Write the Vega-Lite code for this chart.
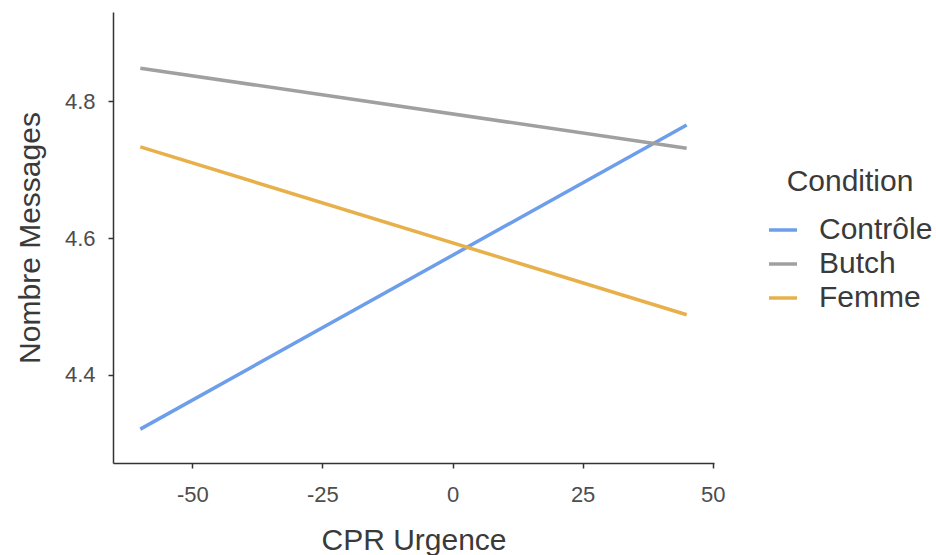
{
  "$schema": "https://vega.github.io/schema/vega-lite/v6.json",
  "width": 601,
  "height": 451,
  "autosize": "none",
  "padding": {"left": 113, "top": 12, "right": 222, "bottom": 92},
  "background": "white",
  "config": {"view": {"stroke": null}, "font": "Liberation Sans"},
  "data": {
    "values": [
      {"CPR": -60, "Messages": 4.321, "Condition": "Contrôle"},
      {"CPR": 45, "Messages": 4.765, "Condition": "Contrôle"},
      {"CPR": -60, "Messages": 4.848, "Condition": "Butch"},
      {"CPR": 45, "Messages": 4.731, "Condition": "Butch"},
      {"CPR": -60, "Messages": 4.733, "Condition": "Femme"},
      {"CPR": 45, "Messages": 4.488, "Condition": "Femme"}
    ]
  },
  "mark": {"type": "line", "strokeWidth": 3.5},
  "encoding": {
    "x": {
      "field": "CPR",
      "type": "quantitative",
      "scale": {"domain": [-65.25, 50.25], "nice": false, "zero": false},
      "axis": {
        "title": "CPR Urgence",
        "values": [-50, -25, 0, 25, 50],
        "labelExpr": "replace(datum.label, '−', '-')",
        "grid": false,
        "domainColor": "#333333",
        "domainWidth": 1.5,
        "tickColor": "#333333",
        "tickWidth": 1.5,
        "tickSize": 5,
        "labelFontSize": 22,
        "labelColor": "#4d4d4d",
        "labelPadding": 16,
        "titleFontSize": 30,
        "titleFontWeight": "normal",
        "titleColor": "#3a3a3a",
        "titlePadding": 20
      }
    },
    "y": {
      "field": "Messages",
      "type": "quantitative",
      "scale": {"domain": [4.2715, 4.93], "nice": false, "zero": false},
      "axis": {
        "title": "Nombre Messages",
        "values": [4.4, 4.6, 4.8],
        "format": ".1f",
        "grid": false,
        "domainColor": "#333333",
        "domainWidth": 1.5,
        "tickColor": "#333333",
        "tickWidth": 1.5,
        "tickSize": 5,
        "labelFontSize": 22,
        "labelColor": "#4d4d4d",
        "labelPadding": 13,
        "titleFontSize": 30,
        "titleFontWeight": "normal",
        "titleColor": "#3a3a3a",
        "titlePadding": 19
      }
    },
    "color": {
      "field": "Condition",
      "type": "nominal",
      "sort": ["Contrôle", "Butch", "Femme"],
      "scale": {
        "domain": ["Contrôle", "Butch", "Femme"],
        "range": ["#6D9EEB", "#A0A0A0", "#E8B04A"]
      },
      "legend": {
        "orient": "none",
        "legendX": 654,
        "legendY": 155,
        "title": "Condition",
        "titleFontSize": 30,
        "titleFontWeight": "normal",
        "titleColor": "#3a3a3a",
        "titleAnchor": "middle",
        "titlePadding": 17,
        "labelFontSize": 30,
        "labelColor": "#3a3a3a",
        "labelOffset": 20,
        "symbolType": "stroke",
        "symbolSize": 784,
        "symbolStrokeWidth": 3.5,
        "rowPadding": 3
      }
    }
  }
}
